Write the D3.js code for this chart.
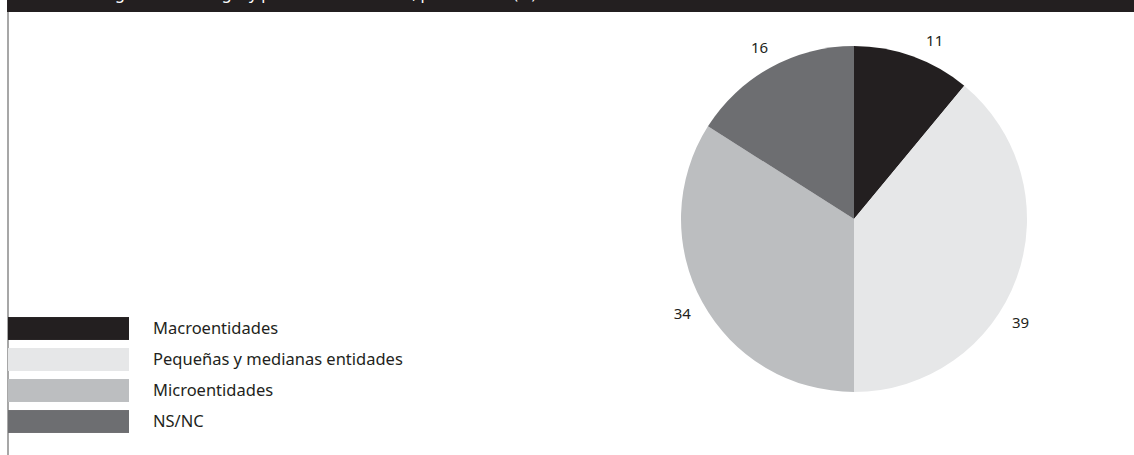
<!DOCTYPE html>
<html lang="es">
<meta charset="utf-8">
<style>
body { margin: 0; background: #fff; }
svg { display: block; font-family: "Noto Sans", sans-serif; }
.legend text { font-size: 16.5px; fill: #231f20; }
.label { font-size: 15px; fill: #231f20; text-anchor: middle; }
.title { font-size: 16px; fill: #fff; }
</style>
<body>
<svg width="1134" height="455"></svg>
<script src="https://d3js.org/d3.v7.min.js"></script>
<script>
var categories = ["Macroentidades", "Pequeñas y medianas entidades", "Microentidades", "NS/NC"];
var values = [11, 39, 34, 16];
var colors = ["#231f20", "#e6e7e8", "#bcbec0", "#6d6e71"];
var title = "Entidades según la tecnología y plataforma utilizada, por tamaño (%)";

var svg = d3.select("svg");
var width = 1134, height = 455;

// header band (title is cut off at the top in the source)
svg.append("rect")
    .attr("x", 7).attr("y", 0)
    .attr("width", width - 7).attr("height", 12)
    .attr("fill", "#231f20");
svg.append("text")
    .attr("class", "title")
    .attr("x", 20).attr("y", -1.5)
    .text(title);

// left rule
svg.append("line")
    .attr("x1", 8).attr("x2", 8)
    .attr("y1", 12).attr("y2", height)
    .attr("stroke", "#8a8a8a")
    .attr("stroke-width", 1.5);

var data = categories.map(function(c, i) { return {name: c, value: values[i], color: colors[i]}; });

var cx = 854, cy = 219, r = 173;
var pie = d3.pie().sort(null).value(function(d) { return d.value; });
var arc = d3.arc().innerRadius(0).outerRadius(r);

var pieG = svg.append("g").attr("transform", "translate(" + cx + "," + cy + ")");
var arcs = pie(data);

pieG.selectAll("path")
    .data(arcs)
    .enter().append("path")
        .attr("d", arc)
        .attr("fill", function(d) { return d.data.color; });

// labels sit outside the pie, a few nudged along the rim
var labelR = 196;
var nudge = [4.5, 12, 0, 0];
function labelAngle(d, i) { return (d.startAngle + d.endAngle) / 2 + nudge[i] * Math.PI / 180; }
pieG.selectAll("text")
    .data(arcs)
    .enter().append("text")
        .attr("class", "label")
        .attr("dy", "0.35em")
        .attr("x", function(d, i) { return labelR * Math.sin(labelAngle(d, i)); })
        .attr("y", function(d, i) { return -labelR * Math.cos(labelAngle(d, i)); })
        .text(function(d) { return d.data.value; });

// legend
var ly = d3.scaleBand().domain(categories).range([313, 437]).paddingInner(0.26).paddingOuter(0.13);
var legend = svg.append("g").attr("class", "legend");
legend.selectAll("rect")
    .data(data)
    .enter().append("rect")
        .attr("x", 8).attr("width", 121)
        .attr("y", function(d) { return ly(d.name); })
        .attr("height", ly.bandwidth())
        .attr("fill", function(d) { return d.color; });
legend.selectAll("text")
    .data(data)
    .enter().append("text")
        .attr("x", 153)
        .attr("y", function(d) { return ly(d.name) + ly.bandwidth() / 2; })
        .attr("dy", "0.35em")
        .text(function(d) { return d.name; });
</script>
</body>
</html>
